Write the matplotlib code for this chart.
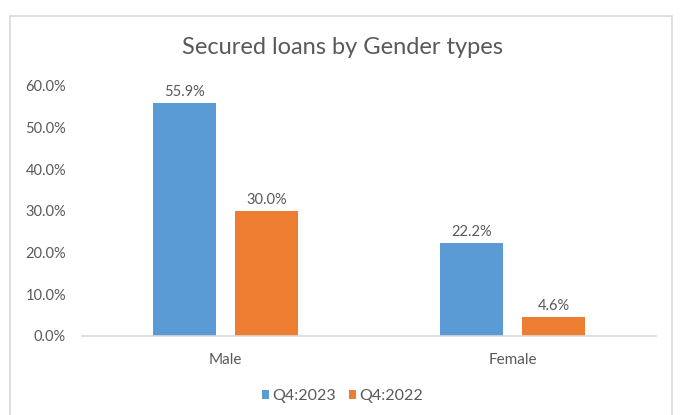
import numpy as np
import matplotlib
matplotlib.use("Agg")
import matplotlib.pyplot as plt
from matplotlib.patches import Rectangle
from matplotlib.ticker import PercentFormatter

categories = ["Male", "Female"]
series_names = ["Q4:2023", "Q4:2022"]
q4_2023 = [55.9, 22.2]
q4_2022 = [30.0, 4.6]
y_ticks = [0, 10, 20, 30, 40, 50, 60]

BLUE = "#5B9BD5"
ORANGE = "#ED7D31"
TEXT = "#595959"
GRID = "#D9D9D9"

plt.rcParams["font.family"] = ["Lato", "DejaVu Sans"]

fig = plt.figure(figsize=(6.81, 4.15), dpi=100)
ax = fig.add_axes([0.1204, 0.1904, 0.8429, 0.6024])

# chart frame
fig.patches.append(Rectangle((10 / 681, -0.05), 662 / 681, 1 - 16 / 415 + 0.05,
                             transform=fig.transFigure, fill=False,
                             edgecolor=GRID, linewidth=1.2))

x = np.arange(len(categories))
w = 0.22
off = 0.143
bars1 = ax.bar(x - off, q4_2023, w, color=BLUE, label=series_names[0])
bars2 = ax.bar(x + off, q4_2022, w, color=ORANGE, label=series_names[1])

for bars, vals in ((bars1, q4_2023), (bars2, q4_2022)):
    for b, v in zip(bars, vals):
        ax.annotate(f"{v:.1f}%", (b.get_x() + b.get_width() / 2, v),
                    xytext=(0, 3), textcoords="offset points",
                    ha="center", va="bottom", fontsize=10.5, color=TEXT)

ax.set_xlim(-0.5, 1.5)
ax.set_ylim(0, 60)
ax.set_yticks(y_ticks)
ax.yaxis.set_major_formatter(PercentFormatter(decimals=1))
ax.set_xticks(x)
ax.set_xticklabels(categories)
ax.tick_params(axis="both", length=0, colors=TEXT)
ax.tick_params(axis="x", pad=12, labelsize=11)
ax.tick_params(axis="y", pad=11.5, labelsize=10.5)

for s in ("top", "right", "left"):
    ax.spines[s].set_visible(False)
ax.spines["bottom"].set_color(GRID)
ax.spines["bottom"].set_linewidth(1.2)

fig.text(0.503, 1 - 47 / 415, "Secured loans by Gender types",
         ha="center", va="center", fontsize=17, color=TEXT)

fig.legend(handles=[bars1, bars2], labels=series_names, loc="center",
           bbox_to_anchor=(0.503, 1 - 396 / 415), ncol=2, frameon=False,
           fontsize=11.5, labelcolor=TEXT, handlelength=0.45, handleheight=0.45,
           handletextpad=0.2, columnspacing=0.8)

fig.savefig("out.png", dpi=100)
